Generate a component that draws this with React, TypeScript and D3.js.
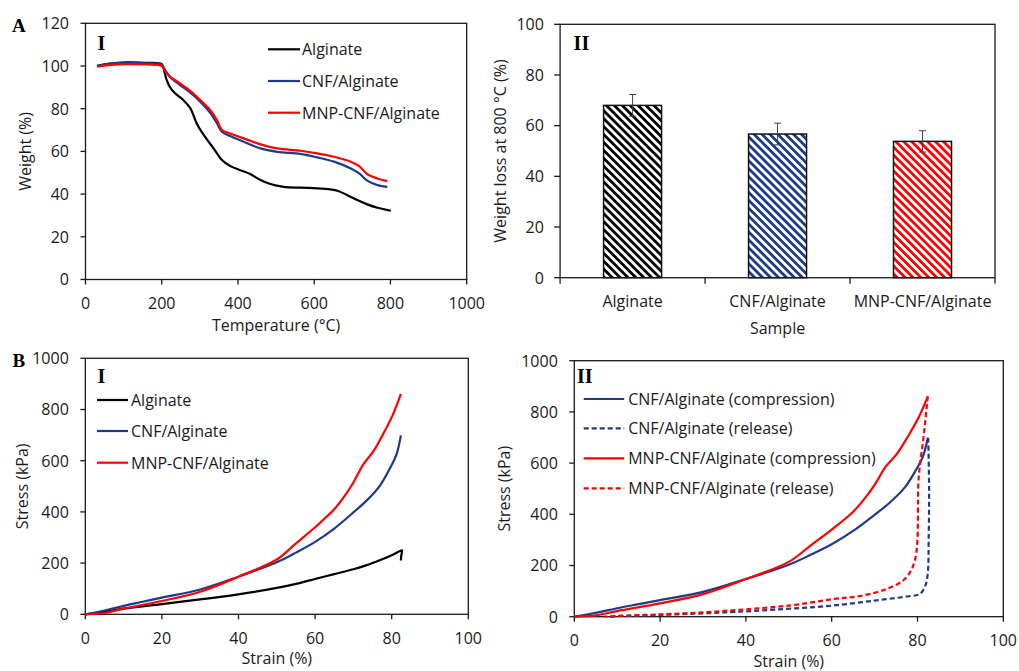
import React from "react";
import * as d3 from "d3";

// ---- data ----
const tgaAlginate: [number, number][] = [
  [31, 100], [60, 101], [108, 101.7], [160, 101.5], [200, 100.9], [206, 98], [213, 93.4],
  [222, 90], [235, 87.2], [257, 84], [275, 80.2], [292, 73], [310, 67.7], [336, 61.4],
  [358, 56], [380, 53.1], [406, 51.2], [432, 49.4], [459, 46.6], [485, 44.7], [520, 43.4],
  [564, 43], [608, 42.7], [643, 42.2], [661, 41.6], [687, 39.5], [713, 37.2], [739, 35.2],
  [766, 33.6], [801, 32.2],
];
const tgaCnf: [number, number][] = [
  [31, 100.2], [60, 101], [108, 101.6], [160, 101.3], [200, 100.5], [209, 98.1], [222, 94.7],
  [248, 91.1], [275, 87.5], [301, 83.3], [327, 78.1], [345, 73.1], [358, 69.2], [380, 67.2],
  [415, 64.5], [459, 61.4], [503, 59.8], [564, 58.8], [608, 57.2], [652, 55.2], [696, 52],
  [718, 49.7], [739, 46.3], [766, 44.2], [792, 43.4],
];
const tgaMnp: [number, number][] = [
  [31, 99.7], [60, 100.4], [108, 100.9], [160, 100.7], [200, 100], [209, 97.8], [222, 95],
  [248, 91.9], [275, 88.4], [301, 84.1], [327, 79.4], [345, 74.7], [358, 70], [380, 68.4],
  [415, 66.1], [459, 63.3], [503, 61.4], [564, 60.3], [608, 59.1], [652, 57.5], [696, 55.2],
  [718, 53.1], [739, 49.4], [766, 47.3], [792, 46.1],
];

const samples = ["Alginate", "CNF/Alginate", "MNP-CNF/Alginate"];
const weightLoss = [68, 56.7, 53.8];
const weightLossErr = [4.3, 4.3, 4.2];

const stressAlginate: [number, number][] = [
  [0, 0], [5, 10], [10, 22], [20, 40], [30, 58], [40, 78], [50, 103], [55, 119], [60, 138],
  [65, 157], [70, 176], [73.5, 192], [77, 212], [80, 231], [82.2, 247], [82.7, 250],
  [82.5, 230], [82.4, 210],
];
const stressCnf: [number, number][] = [
  [0, 0], [5, 15], [10, 33], [15, 49], [20, 65], [30, 97], [40, 147], [50, 203], [55, 241],
  [60, 283], [65, 335], [70, 398], [73.5, 445], [77, 504], [79.6, 572], [81.3, 627], [82.4, 699],
];
const stressMnp: [number, number][] = [
  [0, 0], [5, 5], [10, 22], [20, 52], [30, 88], [40, 147], [50, 214], [55, 277], [60, 340],
  [65, 410], [68, 468], [70, 515], [72.6, 586], [75.2, 636], [77.8, 705], [80.4, 783], [82.4, 861],
];
const releaseCnf: [number, number][] = [
  [82.5, 699], [82.7, 500], [82.6, 300], [82.4, 170], [81.8, 120], [80.5, 88], [78, 80],
  [70, 63], [60, 43], [50, 31], [40, 21], [30, 13], [20, 7], [10, 2], [8, 0],
];
const releaseMnp: [number, number][] = [
  [82.4, 861], [81.4, 700], [80.3, 547], [79.4, 221], [77.2, 150], [73.2, 111], [67, 82],
  [60, 68], [50.4, 44], [40, 29], [30, 17], [20, 9], [10, 3], [7, 0],
];

const tempTicks = [0, 200, 400, 600, 800, 1000];
const weightTicks = [0, 20, 40, 60, 80, 100, 120];
const lossTicks = [0, 20, 40, 60, 80, 100];
const strainTicks = [0, 20, 40, 60, 80, 100];
const stressTicks = [0, 200, 400, 600, 800, 1000];

const BLACK = "#000000";
const BLUE = "#1f3a8a";
const RED = "#ff0000";
const FONT = "'Open Sans', 'Liberation Sans', sans-serif";
const SERIF = "'Liberation Serif', 'DejaVu Serif', serif";
const AXIS = "#1a1a1a";

type Box = { l: number; t: number; r: number; b: number };

const line = (x: d3.ScaleLinear<number, number>, y: d3.ScaleLinear<number, number>) =>
  d3.line<[number, number]>().x(d => x(d[0])).y(d => y(d[1])).curve(d3.curveCatmullRom.alpha(0.5));

function Frame({ box, xTicks, yTicks, x, y }: any) {
  return (
    <g>
      <rect x={box.l} y={box.t} width={box.r - box.l} height={box.b - box.t} fill="none" stroke={AXIS} strokeWidth={1.3} />
      {yTicks.map((v: number) => (
        <g key={"y" + v}>
          <line x1={box.l - 5} x2={box.l} y1={y(v)} y2={y(v)} stroke={AXIS} strokeWidth={1.3} />
          <text x={box.l - 16.5} y={y(v) + 5.8} textAnchor="end" fontSize={16} fontFamily={FONT} fill="#1a1a1a">{v}</text>
        </g>
      ))}
      {xTicks && xTicks.map((v: number) => (
        <g key={"x" + v}>
          <line x1={x(v)} x2={x(v)} y1={box.b} y2={box.b + 5} stroke={AXIS} strokeWidth={1.3} />
          <text x={x(v)} y={box.b + 29.5} textAnchor="middle" fontSize={16} fontFamily={FONT} fill="#1a1a1a">{v}</text>
        </g>
      ))}
    </g>
  );
}

function Legend({ x0, x1, tx, rows }: any) {
  return (
    <g>
      {rows.map((r: any, i: number) => (
        <g key={i}>
          <line x1={x0} x2={x1} y1={r.y} y2={r.y} stroke={r.color} strokeWidth={2.2} strokeDasharray={r.dash ? "5,3" : undefined} />
          <text x={tx} y={r.y + 5.8} fontSize={16} fontFamily={FONT} fill="#1a1a1a">{r.label}</text>
        </g>
      ))}
    </g>
  );
}

export default function App() {
  // A-I TGA
  const a1: Box = { l: 85.5, t: 23.3, r: 466.7, b: 279.5 };
  const xa1 = d3.scaleLinear().domain([0, 1000]).range([a1.l, a1.r]);
  const ya1 = d3.scaleLinear().domain([0, 120]).range([a1.b, a1.t]);
  const la1 = line(xa1, ya1);

  // A-II bars
  const a2: Box = { l: 560.1, t: 24.3, r: 995, b: 277.7 };
  const xa2 = d3.scaleBand<string>().domain(samples).range([a2.l, a2.r]).padding(0);
  const ya2 = d3.scaleLinear().domain([0, 100]).range([a2.b, a2.t]);
  const barW = xa2.bandwidth() * 0.4;
  const barColors = [BLACK, BLUE, RED];

  // B-I
  const b1: Box = { l: 85.3, t: 358.3, r: 468.3, b: 614.3 };
  const xb1 = d3.scaleLinear().domain([0, 100]).range([b1.l, b1.r]);
  const yb1 = d3.scaleLinear().domain([0, 1000]).range([b1.b, b1.t]);
  const lb1 = line(xb1, yb1);

  // B-II
  const b2: Box = { l: 574.3, t: 360.7, r: 1003.3, b: 616.7 };
  const xb2 = d3.scaleLinear().domain([0, 100]).range([b2.l, b2.r]);
  const yb2 = d3.scaleLinear().domain([0, 1000]).range([b2.b, b2.t]);
  const lb2 = line(xb2, yb2);

  return (
    <svg width={1019} height={671} style={{ position: "absolute", left: 0, top: 0, background: "#fff" }}>
      <defs>
        {barColors.map((c, i) => (
          <pattern key={i} id={"hatch" + i} width={5.6} height={5.6} patternUnits="userSpaceOnUse" patternTransform="rotate(-45)">
            <rect width={5.6} height={5.6} fill="#fff" />
            <rect width={2.8} height={5.6} fill={c} />
          </pattern>
        ))}
      </defs>

      {/* A-I */}
      <Frame box={a1} xTicks={tempTicks} yTicks={weightTicks} x={xa1} y={ya1} />
      <path d={la1(tgaAlginate) || ""} fill="none" stroke={BLACK} strokeWidth={2.2} />
      <path d={la1(tgaCnf) || ""} fill="none" stroke={BLUE} strokeWidth={2.2} />
      <path d={la1(tgaMnp) || ""} fill="none" stroke={RED} strokeWidth={2.2} />
      <Legend x0={268} x1={300} tx={302} rows={[
        { y: 49.3, color: BLACK, label: "Alginate" },
        { y: 81, color: BLUE, label: "CNF/Alginate" },
        { y: 112.7, color: RED, label: "MNP-CNF/Alginate" },
      ]} />
      <text x={12} y={31.5} fontSize={19} fontWeight="bold" fontFamily={SERIF}>A</text>
      <text x={97.5} y={50} fontSize={20} fontWeight="bold" fontFamily={SERIF}>I</text>
      <text x={(a1.l + a1.r) / 2} y={331} textAnchor="middle" fontSize={16} fontFamily={FONT} fill="#1a1a1a">Temperature (°C)</text>
      <text transform={`translate(31,${(a1.t + a1.b) / 2}) rotate(-90)`} textAnchor="middle" fontSize={16} fontFamily={FONT} fill="#1a1a1a">Weight (%)</text>

      {/* A-II */}
      {samples.map((s, i) => {
        const cx = (xa2(s) || 0) + xa2.bandwidth() / 2;
        return (
          <g key={s}>
            <rect x={cx - barW / 2} y={ya2(weightLoss[i])} width={barW} height={a2.b - ya2(weightLoss[i])}
              fill={`url(#hatch${i})`} stroke="#111" strokeWidth={1.5} />
          </g>
        );
      })}
      <rect x={a2.l} y={a2.t} width={a2.r - a2.l} height={a2.b - a2.t} fill="none" stroke={AXIS} strokeWidth={1.3} />
      {lossTicks.map(v => (
        <g key={v}>
          <line x1={a2.l - 6} x2={a2.l} y1={ya2(v)} y2={ya2(v)} stroke={AXIS} strokeWidth={1.3} />
          <text x={543.9} y={ya2(v) + 5.8} textAnchor="end" fontSize={16} fontFamily={FONT} fill="#1a1a1a">{v}</text>
        </g>
      ))}
      {[...samples.map(s => xa2(s) || 0), a2.r].map((xv, i) => (
        <line key={i} x1={xv} x2={xv} y1={a2.b} y2={a2.b + 6} stroke={AXIS} strokeWidth={1.3} />
      ))}
      {samples.map((s, i) => {
        const cx = (xa2(s) || 0) + xa2.bandwidth() / 2;
        return (
          <g key={"e" + s}>
            <line x1={cx} x2={cx} y1={ya2(weightLoss[i] + weightLossErr[i])} y2={ya2(weightLoss[i] - weightLossErr[i])} stroke="#444" strokeWidth={1} />
            <line x1={cx - 3.5} x2={cx + 3.5} y1={ya2(weightLoss[i] + weightLossErr[i])} y2={ya2(weightLoss[i] + weightLossErr[i])} stroke="#444" strokeWidth={1} />
            <line x1={cx - 3.5} x2={cx + 3.5} y1={ya2(weightLoss[i] - weightLossErr[i])} y2={ya2(weightLoss[i] - weightLossErr[i])} stroke="#444" strokeWidth={1} />
            <text x={cx} y={a2.b + 29} textAnchor="middle" fontSize={16} fontFamily={FONT} fill="#1a1a1a">{s}</text>
          </g>
        );
      })}
      <text x={573.6} y={50} fontSize={20} fontWeight="bold" fontFamily={SERIF}>II</text>
      <text x={(a2.l + a2.r) / 2} y={334} textAnchor="middle" fontSize={16} fontFamily={FONT} fill="#1a1a1a">Sample</text>
      <text transform={`translate(506,${(a2.t + a2.b) / 2}) rotate(-90)`} textAnchor="middle" fontSize={16} fontFamily={FONT} fill="#1a1a1a">Weight loss at 800 °C (%)</text>

      {/* B-I */}
      <Frame box={b1} xTicks={strainTicks} yTicks={stressTicks} x={xb1} y={yb1} />
      <path d={lb1(stressAlginate) || ""} fill="none" stroke={BLACK} strokeWidth={2.2} />
      <path d={lb1(stressCnf) || ""} fill="none" stroke={BLUE} strokeWidth={2.2} />
      <path d={lb1(stressMnp) || ""} fill="none" stroke={RED} strokeWidth={2.2} />
      <Legend x0={97} x1={128} tx={131} rows={[
        { y: 400, color: BLACK, label: "Alginate" },
        { y: 431, color: BLUE, label: "CNF/Alginate" },
        { y: 462.7, color: RED, label: "MNP-CNF/Alginate" },
      ]} />
      <text x={12.5} y={366.7} fontSize={19} fontWeight="bold" fontFamily={SERIF}>B</text>
      <text x={97.5} y={383.3} fontSize={20} fontWeight="bold" fontFamily={SERIF}>I</text>
      <text x={(b1.l + b1.r) / 2} y={664} textAnchor="middle" fontSize={16} fontFamily={FONT} fill="#1a1a1a">Strain (%)</text>
      <text transform={`translate(28,${(b1.t + b1.b) / 2}) rotate(-90)`} textAnchor="middle" fontSize={16} fontFamily={FONT} fill="#1a1a1a">Stress (kPa)</text>

      {/* B-II */}
      <Frame box={b2} xTicks={strainTicks} yTicks={stressTicks} x={xb2} y={yb2} />
      <path d={lb2(stressCnf) || ""} fill="none" stroke={BLUE} strokeWidth={2.2} />
      <path d={lb2(releaseCnf) || ""} fill="none" stroke={BLUE} strokeWidth={2.2} strokeDasharray="5,3" />
      <path d={lb2(stressMnp) || ""} fill="none" stroke={RED} strokeWidth={2.2} />
      <path d={lb2(releaseMnp) || ""} fill="none" stroke={RED} strokeWidth={2.2} strokeDasharray="5,3" />
      <Legend x0={583.7} x1={624.2} tx={628.2} rows={[
        { y: 399, color: BLUE, label: "CNF/Alginate (compression)" },
        { y: 428.3, color: BLUE, dash: true, label: "CNF/Alginate (release)" },
        { y: 458.3, color: RED, label: "MNP-CNF/Alginate (compression)" },
        { y: 488.3, color: RED, dash: true, label: "MNP-CNF/Alginate (release)" },
      ]} />
      <text x={577} y={383.3} fontSize={20} fontWeight="bold" fontFamily={SERIF}>II</text>
      <text x={(b2.l + b2.r) / 2} y={666.5} textAnchor="middle" fontSize={16} fontFamily={FONT} fill="#1a1a1a">Strain (%)</text>
      <text transform={`translate(509.5,${(b2.t + b2.b) / 2}) rotate(-90)`} textAnchor="middle" fontSize={16} fontFamily={FONT} fill="#1a1a1a">Stress (kPa)</text>
    </svg>
  );
}
